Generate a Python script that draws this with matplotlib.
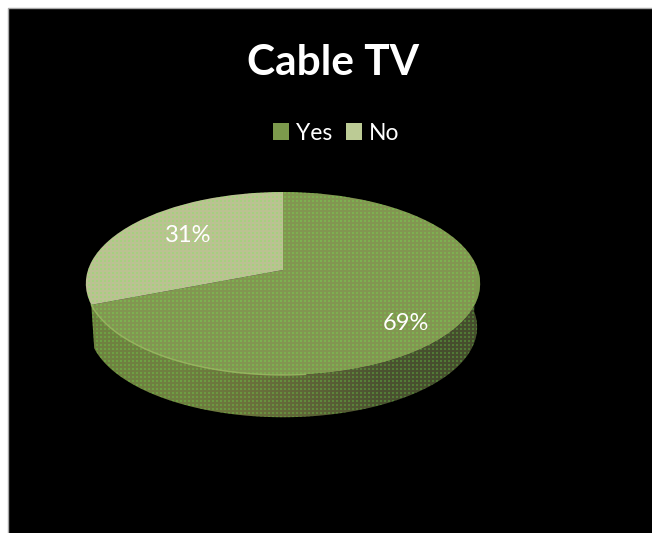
"""
Cable TV tilted pie chart on black panel
"""
import numpy as np
import matplotlib
matplotlib.use("Agg")
import matplotlib.pyplot as plt
from matplotlib.patches import Rectangle, Polygon
from matplotlib.transforms import Transform

## data
labels = ["Yes", "No"]
values = [69, 31]

## colours
yes_color = "#7c9a4c"
no_color = "#bccb95"
rim_color = "#a3c268"


## tilt the flat unit pie into picture pixels (slight perspective)
class Tilt(Transform):
    input_dims = 2
    output_dims = 2

    def __init__(self, cx, cy, a, b, k):
        super().__init__()
        self.cx, self.cy, self.a, self.b, self.k = cx, cy, a, b, k

    def transform_non_affine(self, xy):
        xy = np.asarray(xy)
        w = 1 + self.k * xy[:, 1]
        return np.column_stack((self.cx + self.a * xy[:, 0] / w,
                                self.cy - self.b * xy[:, 1] / w))


def unit_ring(t):
    return np.column_stack((np.cos(t), np.sin(t)))


def main():
    plt.rcParams["font.family"] = ["Lato", "DejaVu Sans"]

    fig = plt.figure(figsize=(6.52, 5.33), dpi=100, facecolor="white")
    ax = fig.add_axes([0, 0, 1, 1])

    ## pie first, pie() resets limits and aspect
    wedges, _ = ax.pie(values, colors=[yes_color, no_color], startangle=90,
                       counterclock=False, wedgeprops={"linewidth": 0, "zorder": 5})
    ax.axis("off")

    ## panel
    ax.add_patch(Rectangle((8, 8), 660, 540, facecolor="black", edgecolor="#a8a8a8",
                           linewidth=1, zorder=0))

    top = Tilt(283, 270, 195, 89.5, 0.1475)
    bottom = Tilt(283, 314, 192, 88, 0.1475)
    for w in wedges:
        w.set_transform(top + ax.transData)

    ## side wall, only under the front part of the Yes slice
    yes = wedges[0]
    t = np.radians(np.linspace(min(yes.theta1, yes.theta2), max(yes.theta1, yes.theta2), 400))
    t = t[np.sin(t) < 0.03]
    ring = unit_ring(t)
    wall = np.vstack((top.transform(ring), bottom.transform(ring)[::-1]))
    clip = Polygon(wall, closed=True, transform=ax.transData, facecolor="none", edgecolor="none")
    ax.add_patch(clip)

    grad = np.array([[0.40, 0.51, 0.22], [0.40, 0.50, 0.22], [0.38, 0.44, 0.20],
                     [0.32, 0.37, 0.18], [0.24, 0.30, 0.15], [0.22, 0.28, 0.14]])
    img = ax.imshow(grad[np.newaxis, :, :], extent=(86, 480, 420, 270), aspect="auto",
                    interpolation="bilinear", zorder=3)
    img.set_clip_path(clip)

    ## dither grain of the old screenshot, over top and wall
    back = np.linspace(t[-1], t[0] + 2 * np.pi, 300)
    outline = np.vstack((top.transform(unit_ring(back)), bottom.transform(ring)))
    grain_clip = Polygon(outline, closed=True, transform=ax.transData,
                         facecolor="none", edgecolor="none")
    ax.add_patch(grain_clip)
    yy, xx = np.indices((240, 400))
    grain = np.zeros((240, 400, 4))
    grain[..., :3] = (0.72, 0.50, 0.50)
    grain[..., 3] = 0.12
    dots = (xx % 4 < 2) & (yy % 4 < 2)
    grain[dots, :3] = (0.50, 0.85, 0.35)
    grain[dots, 3] = 0.36
    tex = ax.imshow(grain, extent=(84, 484, 424, 184), aspect="auto",
                    interpolation="nearest", zorder=5.5)
    tex.set_clip_path(grain_clip)

    ax.set_aspect("auto")
    ax.set_xlim(0, 652)
    ax.set_ylim(533, 0)

    ## lighter rim along the front left edge
    front = ring[ring[:, 0] < 0.1]
    ax.plot(front[:, 0], front[:, 1], color=rim_color, lw=1.0, alpha=0.8, zorder=6,
            transform=top + ax.transData)

    ## slice labels
    ax.text(188, 235, f"{values[1]}%", color="white", fontsize=17,
            ha="center", va="center", zorder=7)
    ax.text(406, 323, f"{values[0]}%", color="white", fontsize=17,
            ha="center", va="center", zorder=7)

    ## title and legend
    ax.text(333, 63, "Cable TV", color="white", fontsize=30.5, fontweight="bold",
            ha="center", va="center", zorder=7)
    leg = ax.legend(wedges, labels, loc="center", bbox_to_anchor=(336, 133),
                    bbox_transform=ax.transData, ncol=2, frameon=False,
                    labelcolor="white", fontsize=16.5, handlelength=0.7, handleheight=0.7,
                    handletextpad=0.3, columnspacing=0.6, borderpad=0)
    leg.set_zorder(8)

    fig.savefig("out.png", dpi=100, facecolor="white")


if __name__ == '__main__':
    main()
